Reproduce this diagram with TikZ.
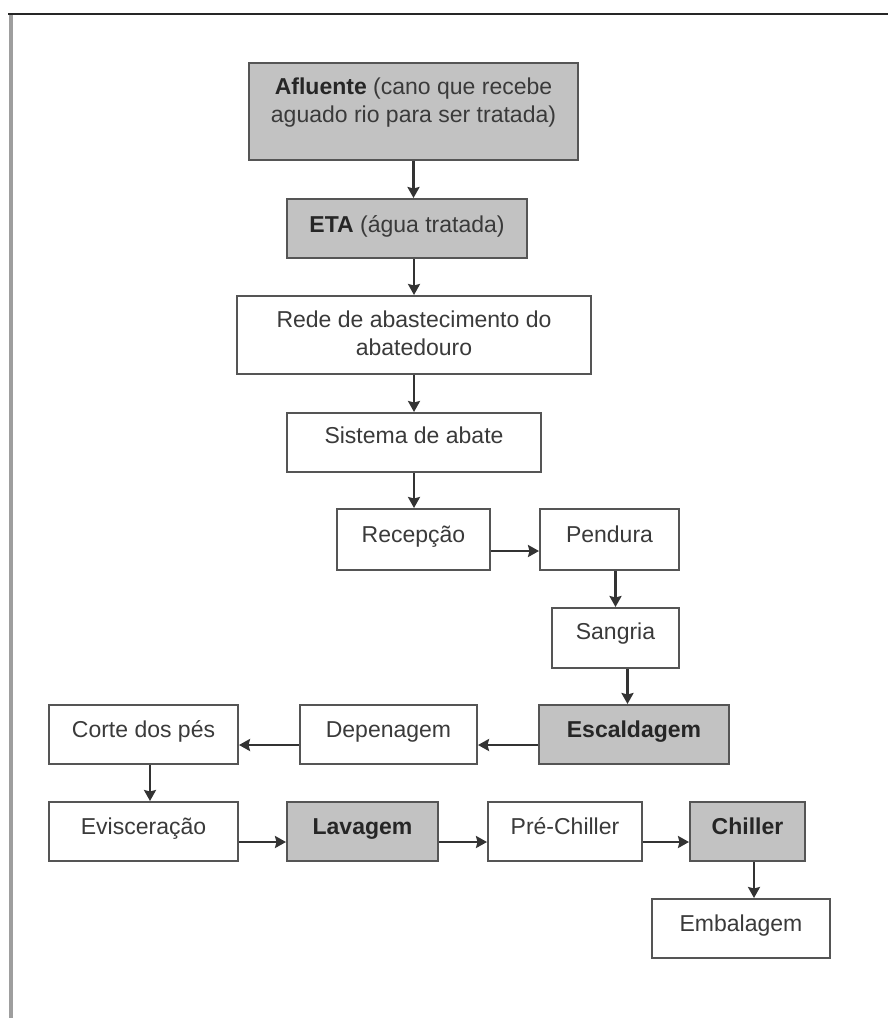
\documentclass[tikz,border=0pt]{standalone}
\usepackage{fontspec}
\setmainfont{Liberation Sans}
\usetikzlibrary{arrows.meta}
\definecolor{boxgray}{HTML}{C2C2C2}
\definecolor{edgegray}{HTML}{555555}
\definecolor{arrowc}{HTML}{333333}
\definecolor{txtc}{HTML}{3A3A3A}
\tikzset{
  box/.style={draw=edgegray, line width=2pt, fill=white, rectangle, inner sep=0pt},
  gbox/.style={box, fill=boxgray},
  txt/.style={font=\fontsize{23}{28}\selectfont, text=txtc, inner sep=0pt, align=center},
  arr/.style={draw=arrowc, line width=2.8pt, -{Stealth[length=11pt,width=12pt,inset=1.5pt]}},
}
\begin{document}
\begin{tikzpicture}[x=1pt,y=-1pt]
\useasboundingbox (0,0) rectangle (888,1018);
% frame
\draw[line width=4pt, color=black!38] (10.5,13) -- (10.5,1018);
\draw[line width=2.5pt, color=black!85] (8,14) -- (888,14);

% boxes
\node[gbox, minimum width=329pt, minimum height=97pt] (afl) at (413.5,111.5) {};
\node[gbox, minimum width=240pt, minimum height=59pt] (eta) at (407,228.5) {};
\node[box, minimum width=354pt, minimum height=78pt] (rede) at (414,335) {};
\node[box, minimum width=254pt, minimum height=59pt] (sis) at (414,442.5) {};
\node[box, minimum width=153pt, minimum height=61pt] (rec) at (413.5,539.5) {};
\node[box, minimum width=139pt, minimum height=61pt] (pen) at (609.5,539.5) {};
\node[box, minimum width=127pt, minimum height=60pt] (san) at (615.5,638) {};
\node[gbox, minimum width=190pt, minimum height=59pt] (esc) at (634,734.5) {};
\node[box, minimum width=177pt, minimum height=59pt] (dep) at (388.5,734.5) {};
\node[box, minimum width=189pt, minimum height=59pt] (cor) at (143.5,734.5) {};
\node[box, minimum width=189pt, minimum height=59pt] (evi) at (143.5,831.5) {};
\node[gbox, minimum width=151pt, minimum height=59pt] (lav) at (362.5,831.5) {};
\node[box, minimum width=154pt, minimum height=59pt] (pre) at (565,831.5) {};
\node[gbox, minimum width=115pt, minimum height=59pt] (chi) at (747.5,831.5) {};
\node[box, minimum width=178pt, minimum height=59pt] (emb) at (741,928.5) {};

% texts
\node[txt] (taf) at (413.5,103) {\textbf{\color{black!85}Afluente} (cano que recebe\\aguado rio para ser tratada)};
\node[txt, anchor=base] (tet) at (407,232) {\textbf{\color{black!85}ETA} (água tratada)};
\node[txt] (tre) at (414,333) {Rede de abastecimento do\\abatedouro};
\node[txt, anchor=base] (tsi) at (414,443) {Sistema de abate};
\node[txt, anchor=base] (tpc) at (413.5,542) {Recepção};
\node[txt, anchor=base] (tpe) at (609.5,542) {Pendura};
\node[txt, anchor=base] (tsa) at (615.5,639) {Sangria};
\node[txt, anchor=base] (tes) at (634,737) {\textbf{\color{black!85}Escaldagem}};
\node[txt, anchor=base] (tde) at (388.5,737) {Depenagem};
\node[txt, anchor=base] (tco) at (143.5,737) {Corte dos pés};
\node[txt, anchor=base] (tev) at (143.5,834) {Evisceração};
\node[txt, anchor=base] (tla) at (362.5,834) {\textbf{\color{black!85}Lavagem}};
\node[txt, anchor=base] (tpr) at (565,834) {Pré-Chiller};
\node[txt, anchor=base] (tch) at (747.5,834) {\textbf{\color{black!85}Chiller}};
\node[txt, anchor=base] (tem) at (741,931) {Embalagem};

% connectors
\draw[arr] (afl.south) -- (afl.south |- eta.north);
\draw[arr] (rede.north |- eta.south) -- (rede.north);
\draw[arr] (rede.south) -- (rede.south |- sis.north);
\draw[arr] (sis.south) -- (sis.south |- rec.north);
\draw[arr] ([yshift=-11.5pt]rec.east) -- ([yshift=-11.5pt]rec.east -| pen.west);
\draw[arr] (san.north |- pen.south) -- (san.north);
\draw[arr] ([xshift=12pt]san.south) -- ([xshift=12pt]san.south |- esc.north);
\draw[arr] ([yshift=-10.5pt]esc.west) -- ([yshift=-10.5pt]esc.west -| dep.east);
\draw[arr] ([yshift=-10.5pt]dep.west) -- ([yshift=-10.5pt]dep.west -| cor.east);
\draw[arr] ([xshift=6.5pt]cor.south) -- ([xshift=6.5pt]evi.north);
\draw[arr] ([yshift=-10.5pt]evi.east) -- ([yshift=-10.5pt]evi.east -| lav.west);
\draw[arr] ([yshift=-10.5pt]lav.east) -- ([yshift=-10.5pt]lav.east -| pre.west);
\draw[arr] ([yshift=-10.5pt]pre.east) -- ([yshift=-10.5pt]pre.east -| chi.west);
\draw[arr] ([xshift=6.5pt]chi.south) -- ([xshift=6.5pt]chi.south |- emb.north);
\end{tikzpicture}
\end{document}
